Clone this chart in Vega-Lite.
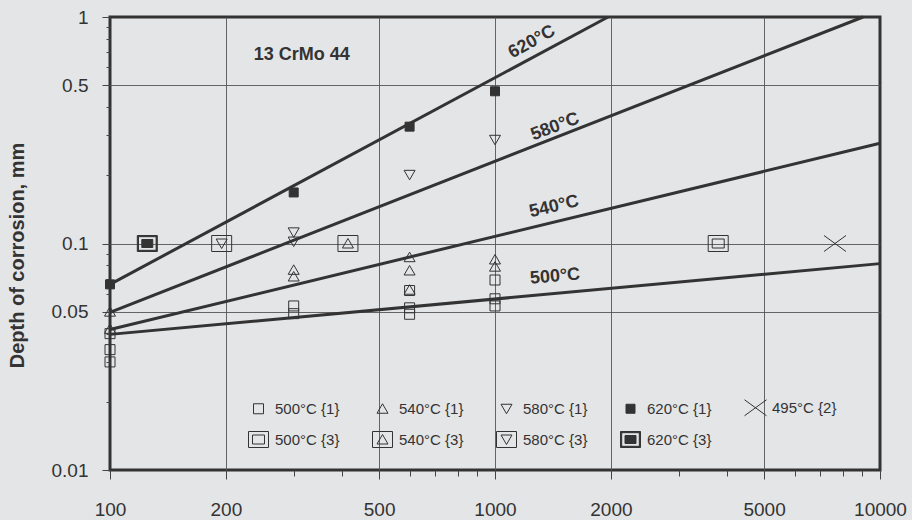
{
  "$schema": "https://vega.github.io/schema/vega-lite/v6.json",
  "width": 770,
  "height": 453,
  "autosize": "none",
  "padding": {"left": 110, "top": 17, "right": 32, "bottom": 50},
  "background": "#e4e5e7",
  "config": {
    "font": "Liberation Sans",
    "view": {"stroke": "#333333", "strokeWidth": 3, "fill": "#e4e5e7"},
    "axis": {"labelColor": "#333333", "labelFont": "Liberation Sans", "labelFontSize": 19, "domain": false, "tickColor": "#444444", "gridColor": "#555555", "gridWidth": 0.9},
    "legend": {
      "title": null,
      "orient": "none",
      "legendX": 138,
      "legendY": 380,
      "direction": "horizontal",
      "columns": 5,
      "columnPadding": 30,
      "rowPadding": 11,
      "labelOffset": 6,
      "labelFontSize": 15,
      "labelColor": "#333333",
      "labelFont": "Liberation Sans",
      "symbolSize": 400,
      "symbolStrokeWidth": 1
    }
  },
  "datasets": {
    "lines": [
      {"series": "620", "x": 100, "y": 0.066}, {"series": "620", "x": 1966, "y": 1},
      {"series": "580", "x": 100, "y": 0.0497}, {"series": "580", "x": 9040, "y": 1},
      {"series": "540", "x": 100, "y": 0.0417}, {"series": "540", "x": 10000, "y": 0.277},
      {"series": "500", "x": 100, "y": 0.0397}, {"series": "500", "x": 10000, "y": 0.0815}
    ],
    "points": [
      {"series": "500°C {1}", "x": 100, "y": 0.040},
      {"series": "500°C {1}", "x": 100, "y": 0.034},
      {"series": "500°C {1}", "x": 100, "y": 0.030},
      {"series": "500°C {1}", "x": 300, "y": 0.053},
      {"series": "500°C {1}", "x": 300, "y": 0.049},
      {"series": "500°C {1}", "x": 600, "y": 0.052},
      {"series": "500°C {1}", "x": 600, "y": 0.0487},
      {"series": "500°C {1}", "x": 600, "y": 0.062},
      {"series": "500°C {1}", "x": 1000, "y": 0.069},
      {"series": "500°C {1}", "x": 1000, "y": 0.057},
      {"series": "500°C {1}", "x": 1000, "y": 0.053},
      {"series": "540°C {1}", "x": 100, "y": 0.050},
      {"series": "540°C {1}", "x": 100, "y": 0.042},
      {"series": "540°C {1}", "x": 300, "y": 0.0765},
      {"series": "540°C {1}", "x": 300, "y": 0.0715},
      {"series": "540°C {1}", "x": 600, "y": 0.087},
      {"series": "540°C {1}", "x": 600, "y": 0.076},
      {"series": "540°C {1}", "x": 600, "y": 0.0625},
      {"series": "540°C {1}", "x": 1000, "y": 0.085},
      {"series": "540°C {1}", "x": 1000, "y": 0.079},
      {"series": "580°C {1}", "x": 300, "y": 0.112},
      {"series": "580°C {1}", "x": 300, "y": 0.102},
      {"series": "580°C {1}", "x": 600, "y": 0.201},
      {"series": "580°C {1}", "x": 1000, "y": 0.287},
      {"series": "620°C {1}", "x": 100, "y": 0.066},
      {"series": "620°C {1}", "x": 300, "y": 0.168},
      {"series": "620°C {1}", "x": 600, "y": 0.328},
      {"series": "620°C {1}", "x": 1000, "y": 0.47},
      {"series": "495°C {2}", "x": 7640, "y": 0.1},
      {"series": "500°C {3}", "x": 3800, "y": 0.1},
      {"series": "540°C {3}", "x": 415, "y": 0.1},
      {"series": "580°C {3}", "x": 195, "y": 0.1},
      {"series": "620°C {3}", "x": 125, "y": 0.1}
    ],
    "labels": [
      {"label": "620°C", "x": 1247, "y": 0.776},
      {"label": "580°C", "x": 1432, "y": 0.327},
      {"label": "540°C", "x": 1424, "y": 0.1454},
      {"label": "500°C", "x": 1432, "y": 0.0714},
      {"label": "13 CrMo 44", "x": 315, "y": 0.68}
    ]
  },
  "encoding": {
    "x": {
      "field": "x", "type": "quantitative",
      "scale": {"type": "log", "domain": [100, 10000], "nice": false, "zero": false},
      "axis": {
        "title": null,
        "values": [100, 200, 300, 400, 500, 600, 700, 800, 900, 1000, 2000, 3000, 4000, 5000, 6000, 7000, 8000, 9000, 10000],
        "labelExpr": "indexof([100,200,500,1000,2000,5000,10000], datum.value) >= 0 ? '' + datum.value : ''",
        "labelOverlap": false,
        "labelFlush": false,
        "labelPadding": 21,
        "grid": true,
        "gridOpacity": {"condition": {"test": "indexof([200,500,1000,2000,5000], datum.value) >= 0", "value": 1}, "value": 0},
        "tickSize": {"condition": {"test": "indexof([100,200,500,1000,2000,5000,10000], datum.value) >= 0", "value": 9}, "value": 6}
      }
    },
    "y": {
      "field": "y", "type": "quantitative",
      "scale": {"type": "log", "domain": [0.01, 1], "nice": false, "zero": false},
      "axis": {
        "title": "Depth of corrosion, mm",
        "titleFontSize": 20,
        "titleFontWeight": "bold",
        "titleColor": "#333333",
        "titleX": -87,
        "titleY": 238,
        "titleBaseline": "alphabetic",
        "values": [0.01, 0.02, 0.03, 0.04, 0.05, 0.06, 0.07, 0.08, 0.09, 0.1, 0.2, 0.3, 0.4, 0.5, 0.6, 0.7, 0.8, 0.9, 1],
        "labelExpr": "indexof([0.01,0.05,0.1,0.5,1], datum.value) >= 0 ? '' + datum.value : ''",
        "labelOverlap": false,
        "labelFlush": false,
        "labelPadding": 14,
        "grid": true,
        "gridOpacity": {"condition": {"test": "indexof([0.05,0.1,0.5], datum.value) >= 0", "value": 1}, "value": 0},
        "tickSize": {"condition": {"test": "indexof([0.01,0.05,0.1,0.5,1], datum.value) >= 0", "value": 8}, "value": 4}
      }
    }
  },
  "layer": [
    {
      "data": {"name": "lines"},
      "mark": {"type": "line", "color": "#333333", "strokeWidth": 3},
      "encoding": {"detail": {"field": "series", "type": "nominal"}}
    },
    {
      "data": {"name": "points"},
      "mark": {"type": "point", "filled": true, "size": 400, "strokeWidth": 1, "opacity": 1},
      "encoding": {
        "shape": {
          "field": "series", "type": "nominal",
          "scale": {
            "domain": ["500°C {1}", "540°C {1}", "580°C {1}", "620°C {1}", "495°C {2}", "500°C {3}", "540°C {3}", "580°C {3}", "620°C {3}"],
            "range": [
              "M-0.5,-0.5H0.5V0.5H-0.5Z",
              "M0,-0.5L0.55,0.45L-0.55,0.45Z",
              "M0,0.5L0.55,-0.45L-0.55,-0.45Z",
              "M-0.45,-0.45H0.45V0.45H-0.45Z",
              "M-1.1,-0.8L1.1,0.8M-1.1,0.8L1.1,-0.8",
              "M-1,-0.8H1V0.8H-1ZM-0.6,-0.45H0.6V0.45H-0.6Z",
              "M-1,-0.8H1V0.8H-1ZM0,-0.5L0.55,0.45L-0.55,0.45Z",
              "M-1,-0.8H1V0.8H-1ZM0,0.5L0.55,-0.45L-0.55,-0.45Z",
              "M-1,-0.8H1V0.8H-1ZM-0.88,-0.68V0.68H0.88V-0.68ZM-0.55,-0.4H0.55V0.4H-0.55Z"
            ]
          }
        },
        "fill": {
          "field": "series", "type": "nominal",
          "scale": {
            "domain": ["500°C {1}", "540°C {1}", "580°C {1}", "620°C {1}", "495°C {2}", "500°C {3}", "540°C {3}", "580°C {3}", "620°C {3}"],
            "range": ["transparent", "transparent", "transparent", "#333333", "transparent", "transparent", "transparent", "transparent", "#333333"]
          }
        },
        "stroke": {
          "field": "series", "type": "nominal",
          "scale": {
            "domain": ["500°C {1}", "540°C {1}", "580°C {1}", "620°C {1}", "495°C {2}", "500°C {3}", "540°C {3}", "580°C {3}", "620°C {3}"],
            "range": ["#333333", "#333333", "#333333", "#333333", "#333333", "#333333", "#333333", "#333333", "#333333"]
          }
        }
      }
    },
    {
      "data": {"name": "labels"},
      "transform": [{"filter": "datum.label == '620°C'"}],
      "mark": {"type": "text", "angle": -29, "fontSize": 18, "fontWeight": "bold", "color": "#333333", "align": "center", "baseline": "middle"},
      "encoding": {"text": {"field": "label"}}
    },
    {
      "data": {"name": "labels"},
      "transform": [{"filter": "datum.label == '580°C'"}],
      "mark": {"type": "text", "angle": -21, "fontSize": 18, "fontWeight": "bold", "color": "#333333", "align": "center", "baseline": "middle"},
      "encoding": {"text": {"field": "label"}}
    },
    {
      "data": {"name": "labels"},
      "transform": [{"filter": "datum.label == '540°C'"}],
      "mark": {"type": "text", "angle": -13, "fontSize": 18, "fontWeight": "bold", "color": "#333333", "align": "center", "baseline": "middle"},
      "encoding": {"text": {"field": "label"}}
    },
    {
      "data": {"name": "labels"},
      "transform": [{"filter": "datum.label == '500°C'"}],
      "mark": {"type": "text", "angle": -5, "fontSize": 18, "fontWeight": "bold", "color": "#333333", "align": "center", "baseline": "middle"},
      "encoding": {"text": {"field": "label"}}
    },
    {
      "data": {"name": "labels"},
      "transform": [{"filter": "datum.label == '13 CrMo 44'"}],
      "mark": {"type": "text", "angle": 0, "fontSize": 18, "fontWeight": "bold", "color": "#333333", "align": "center", "baseline": "middle"},
      "encoding": {"text": {"field": "label"}}
    }
  ]
}
